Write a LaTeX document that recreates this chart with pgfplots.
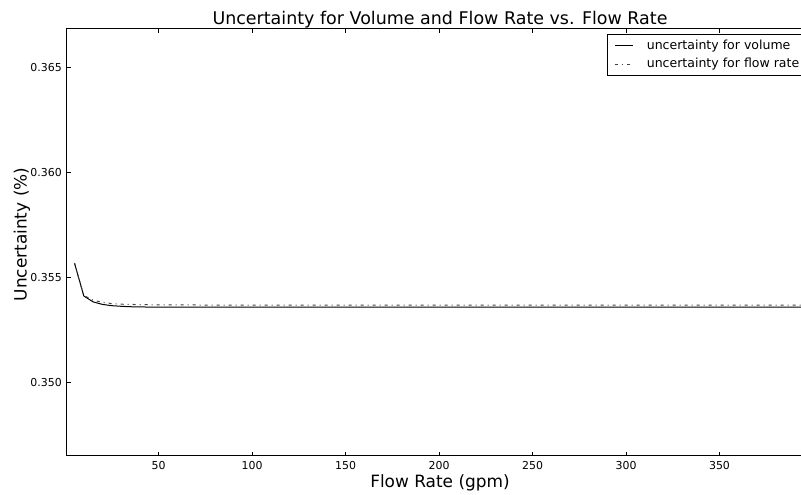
\documentclass[border=0pt]{standalone}
\usepackage{fontspec}
\setmainfont{DejaVu Sans}
\usepackage{pgfplots}
\pgfplotsset{compat=1.18}

% 1 px of the reference = 0.75pt
\begin{document}
\begin{tikzpicture}
\useasboundingbox (-50.25pt,-29.25pt) rectangle (550.5pt,342pt);
\clip (-50.25pt,-29.25pt) rectangle (550.5pt,342pt);
\begin{axis}[
    scale only axis,
    width=559.5pt,
    height=320.25pt,
    xmin=1, xmax=400,
    ymin=0.34648, ymax=0.36682,
    xtick={50,100,150,200,250,300,350},
    ytick={0.350,0.355,0.360,0.365},
    scaled y ticks=false,
    yticklabel style={/pgf/number format/fixed, /pgf/number format/precision=3,
        /pgf/number format/fixed zerofill, anchor=east, inner sep=0pt, xshift=-3.75pt},
    /pgf/number format/assume math mode=true,
    tick label style={font=\fontsize{8.2}{9}\selectfont},
    xticklabel style={anchor=base, yshift=-10.5pt},
    tick align=inside,
    major tick length=3pt,
    axis line style={line width=0.75pt},
    every tick/.style={black, line width=0.6pt},
    title={Uncertainty for Volume and Flow Rate vs. Flow Rate},
    title style={font=\fontsize{13.1}{15}\selectfont, at={(axis description cs:0.5,1)}, anchor=base, yshift=-3pt},
    xlabel={Flow Rate (gpm)},
    xlabel style={font=\fontsize{12.7}{15}\selectfont, at={(axis description cs:0.5,0)}, anchor=base, yshift=-24pt},
    ylabel={Uncertainty (\%)},
    ylabel style={font=\fontsize{12.7}{15}\selectfont, at={(axis description cs:0,0.5)}, anchor=center, yshift=33.75pt, xshift=6pt},
    legend style={at={(axis description cs:1,1)}, anchor=north east, xshift=-3pt, yshift=-3.5pt,
        draw=black, line width=0.6pt, font=\fontsize{9.4}{11}\selectfont,
        inner xsep=5pt, inner ysep=2.5pt, row sep=1pt},
    legend cell align=left,
    legend image code/.code={\draw[#1] (0pt,0pt) -- (13.5pt,0pt); \path (21.5pt,0pt);},
]
\addplot[black, line width=0.75pt] coordinates {
    (5,0.35567) (10,0.35410) (15,0.35382) (20,0.35370) (25,0.35364)
    (30,0.35361) (35,0.35359) (40,0.35358) (50,0.35357) (60,0.353568)
    (80,0.35357) (100,0.35357) (150,0.35357) (200,0.35357) (250,0.35357)
    (300,0.35357) (350,0.35357) (400,0.35357)
};
\addlegendentry{uncertainty for volume}
\addplot[black!75, line width=0.75pt, dash pattern=on 2.25pt off 3pt on 0.75pt off 3pt] coordinates {
    (5,0.35567) (10,0.35412) (15,0.35390) (20,0.35380) (25,0.35374)
    (30,0.35371) (35,0.35370) (40,0.35369) (50,0.35368) (60,0.353675)
    (80,0.35367) (100,0.35367) (150,0.35367) (200,0.35367) (250,0.35367)
    (300,0.35367) (350,0.35367) (400,0.35367)
};
\addlegendentry{uncertainty for flow rate}
\end{axis}
\end{tikzpicture}
\end{document}
